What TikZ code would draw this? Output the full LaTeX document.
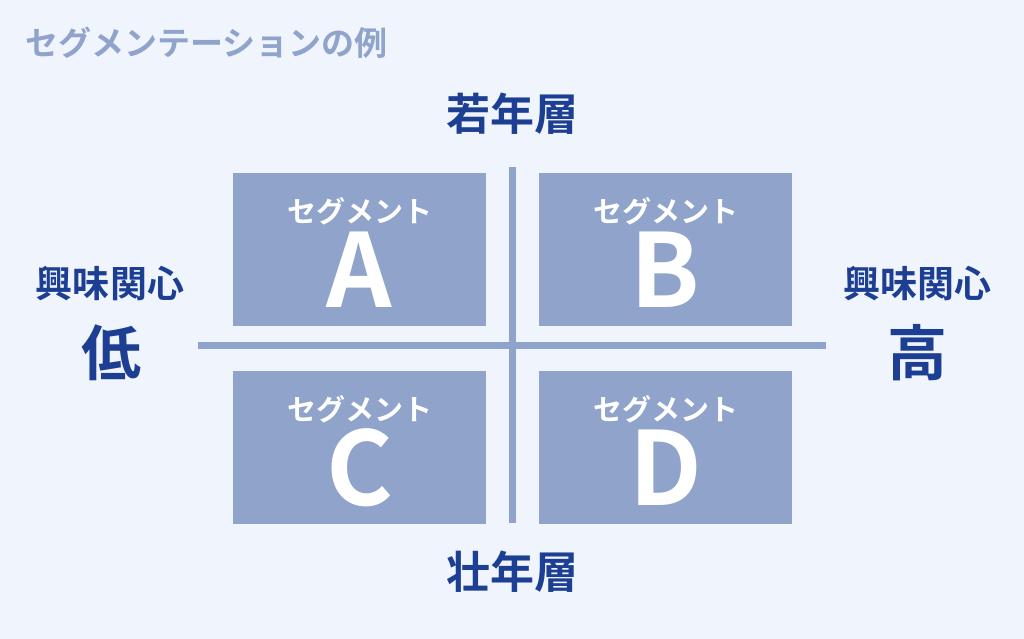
\documentclass[tikz,border=0pt]{standalone}
\usepackage{fontspec}
\setmainfont{Noto Sans CJK JP}[BoldFont={* Bold}]
\newfontfamily\jpb{Noto Sans CJK JP Bold}
\definecolor{bgc}{HTML}{F0F4FD}
\definecolor{boxc}{HTML}{8FA3CB}
\definecolor{navy}{HTML}{1C3F94}
\begin{document}
\begin{tikzpicture}[x=1bp,y=-1bp,
  seg/.style={fill=boxc,draw=none,minimum width=253bp,minimum height=153bp,inner sep=0},
  lbl/.style={inner sep=0,text=navy,font=\jpb\fontsize{37bp}{40bp}\selectfont},
  big/.style={inner sep=0,text=navy,font=\jpb\fontsize{60bp}{64bp}\selectfont},
  axis/.style={inner sep=0,text=navy,font=\jpb\fontsize{44bp}{48bp}\selectfont},
  segt/.style={inner sep=0,text=white,font=\jpb\fontsize{29bp}{32bp}\selectfont},
  letter/.style={inner sep=0,text=white,font=\jpb\fontsize{102bp}{110bp}\selectfont},
  axline/.style={draw=boxc,line width=7bp}]
\fill[bgc] (0,0) rectangle (1024,639);
\useasboundingbox (0,0) rectangle (1024,639);
\node[anchor=west,inner sep=0,text=boxc,font=\jpb\fontsize{33bp}{36bp}\selectfont] (title) at (25,43) {セグメンテーションの例};
\coordinate (vt) at (512.5,167);
\coordinate (vb) at (512.5,523);
\coordinate (hl) at (198,345.5);
\coordinate (hr) at (826,345.5);
\draw[axline] (vt) -- (vb);
\draw[axline] (hl) -- (hr);
\node[seg] (A) at (359.5,249.5) {};
\node[seg] (B) at (665.5,249.5) {};
\node[seg] (C) at (359.5,447.5) {};
\node[seg] (D) at (665.5,447.5) {};
\foreach \n/\L in {A/A,B/B,C/C,D/D}{
  \node[segt] (\n t) at ([yshift=38.5bp]\n.center) {セグメント};
  \node[letter] (\n l) at ([yshift=-20bp]\n.center) {\L};
}
\node[axis] (young) at (512,114) {若年層};
\node[axis] (old) at (512,572) {壮年層};
\node[lbl] (il) at (110,283) {興味関心};
\node[big] (lo) at (111,353) {低};
\node[lbl] (ir) at (917,283) {興味関心};
\node[big] (hi) at (917,353) {高};
\end{tikzpicture}
\end{document}
